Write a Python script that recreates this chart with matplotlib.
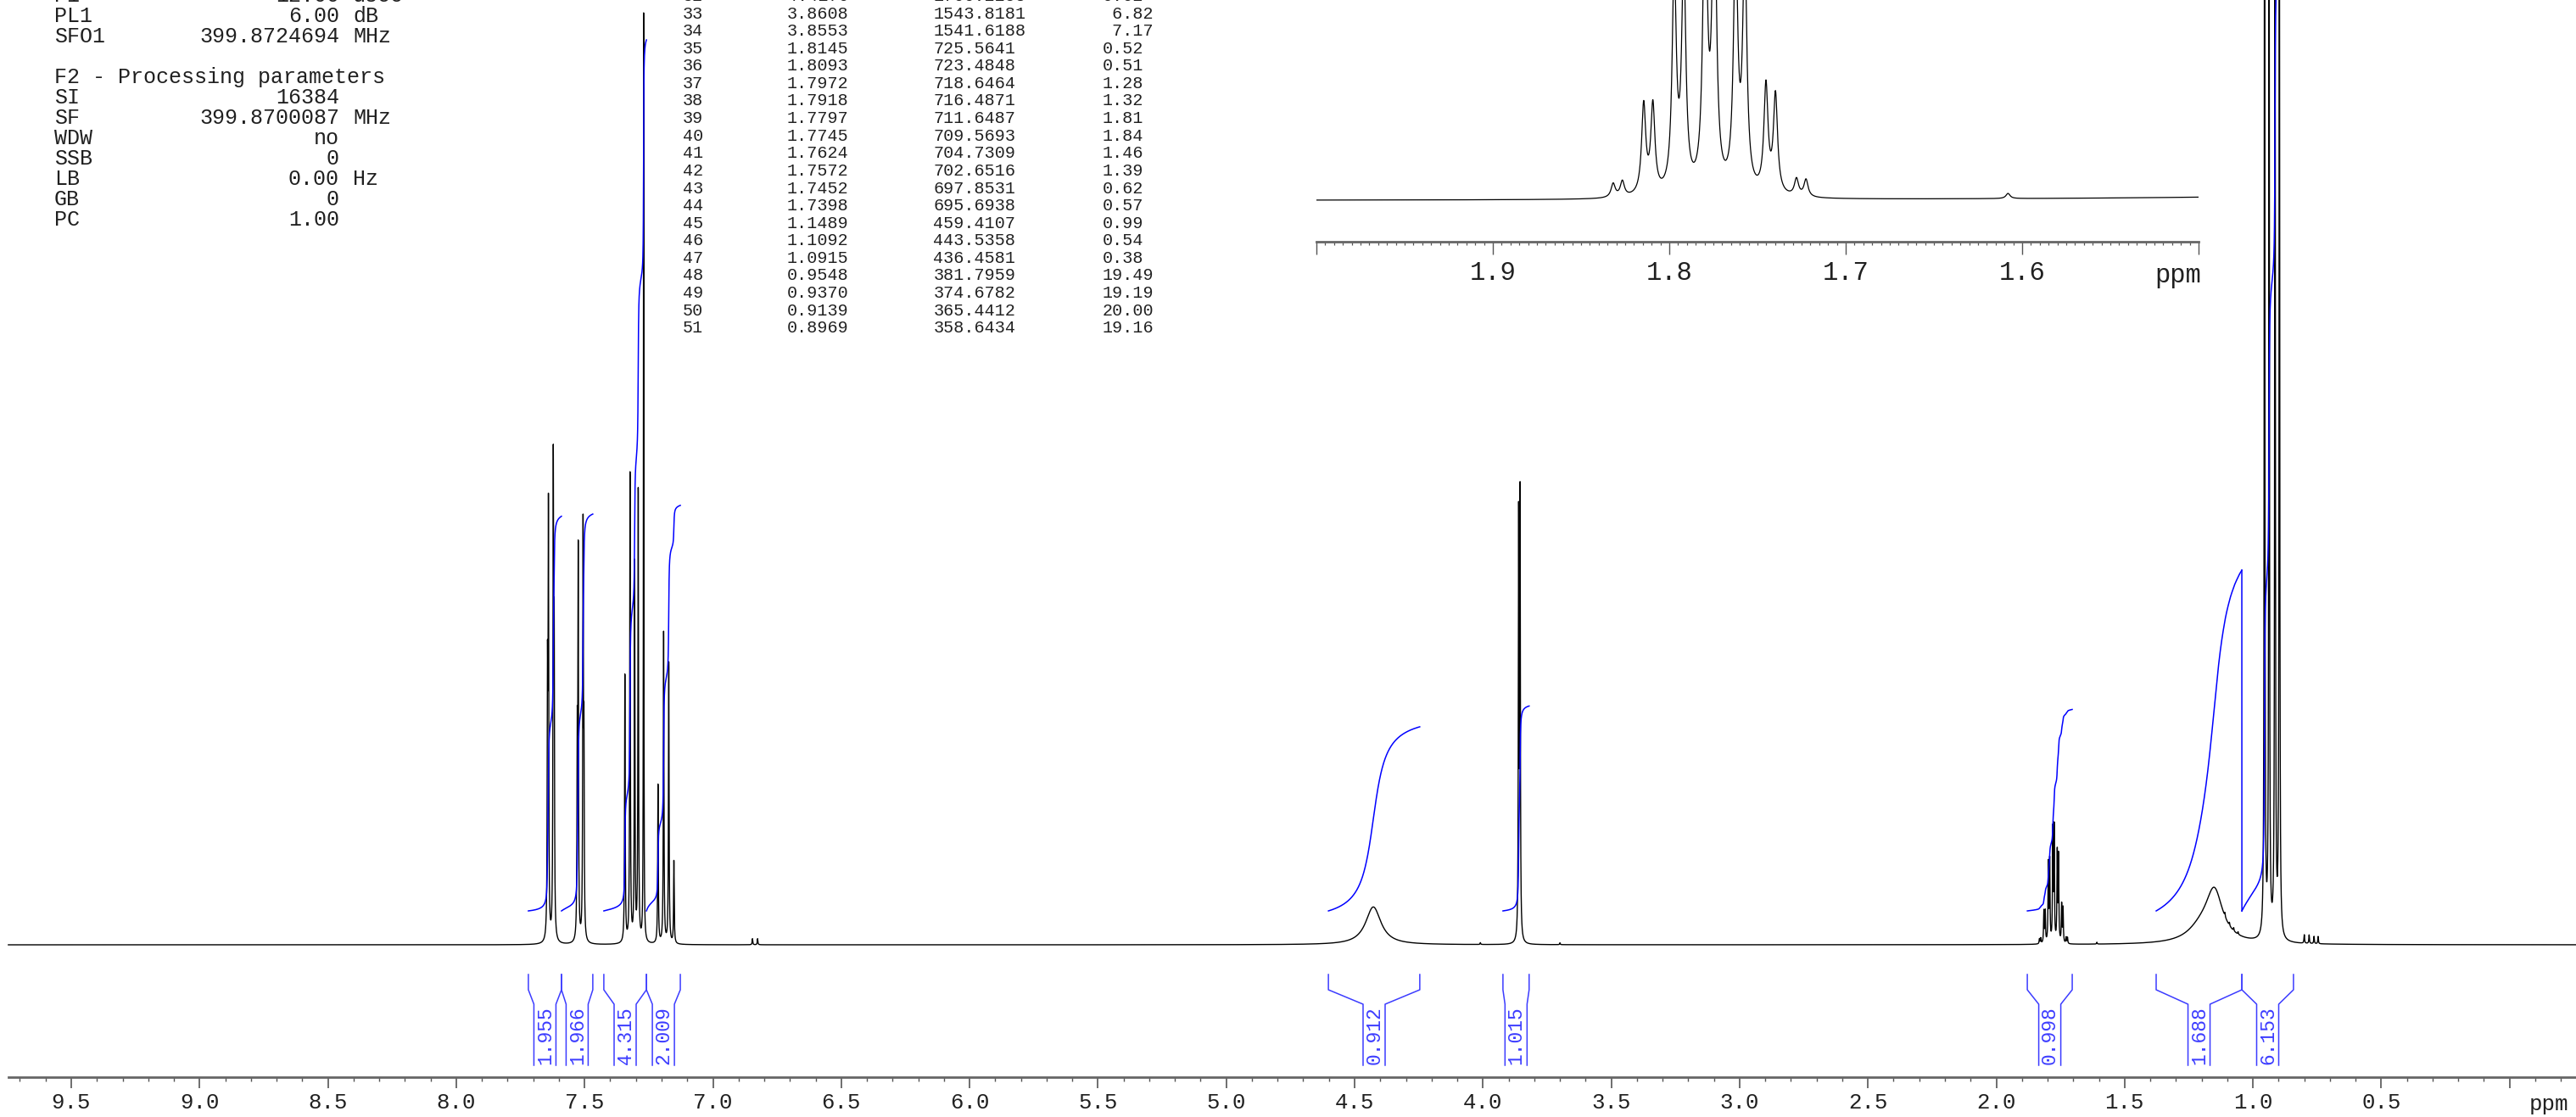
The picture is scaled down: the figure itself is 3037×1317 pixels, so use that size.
import numpy as np
import matplotlib
matplotlib.use("Agg")
import matplotlib.pyplot as plt
from matplotlib.ticker import FixedLocator, MultipleLocator, FuncFormatter

plt.rcParams["font.family"] = ["Liberation Mono", "DejaVu Sans Mono"]

W, H = 3037, 1317
TXT = "#202020"
BLUE = "#0000ff"
BLUE_L = "#3c3cff"

# --- parameter block (top left) ---
param_names = ["P1", "PL1", "SFO1", "", "F2 - Processing parameters",
               "SI", "SF", "WDW", "SSB", "LB", "GB", "PC"]
param_values = ["12.00", "6.00", "399.8724694", "", "",
                "16384", "399.8700087", "no", "0", "0.00", "0", "1.00"]
param_units = ["usec", "dB", "MHz", "", "", "", "MHz", "", "", "Hz", "", ""]

# --- peak list (rows 32..51 visible) ---
table_idx = list(range(32, 52))
table_ppm = [4.4170, 3.8608, 3.8553, 1.8145, 1.8093, 1.7972, 1.7918, 1.7797,
             1.7745, 1.7624, 1.7572, 1.7452, 1.7398, 1.1489, 1.1092, 1.0915,
             0.9548, 0.9370, 0.9139, 0.8969]
table_hz = [1766.2258, 1543.8181, 1541.6188, 725.5641, 723.4848, 718.6464,
            716.4871, 711.6487, 709.5693, 704.7309, 702.6516, 697.8531,
            695.6938, 459.4107, 443.5358, 436.4581, 381.7959, 374.6782,
            365.4412, 358.6434]
table_int = [0.62, 6.82, 7.17, 0.52, 0.51, 1.28, 1.32, 1.81, 1.84, 1.46, 1.39,
             0.62, 0.57, 0.99, 0.54, 0.38, 19.49, 19.19, 20.00, 19.16]
sharp_rows = [33, 34, 35, 36, 37, 38, 39, 40, 41, 42, 43, 44, 48, 49, 50, 51]

# --- peaks (not in the visible list) ---
arom_ppm = [7.6445, 7.6410, 7.6220, 7.6185,
            7.5285, 7.5250, 7.5060, 7.5025,
            7.343, 7.323, 7.305, 7.291,
            7.214, 7.192, 7.172, 7.152]
arom_int = [4.0, 6.8, 7.5, 4.6,
            3.0, 6.2, 6.6, 3.0,
            4.4, 7.7, 6.2, 7.4,
            2.6, 5.1, 4.6, 1.35]
solvent_ppm = [7.270]
solvent_int = [15.3]
minor_ppm = [6.846, 6.826, 4.01, 3.70, 1.8318, 1.8266, 1.7279, 1.7225, 1.608,
             1.1092, 1.0915, 1.075, 1.058, 0.800, 0.781, 0.762, 0.746]
minor_int = [0.10, 0.10, 0.03, 0.03, 0.08, 0.09, 0.10, 0.10, 0.03,
             0.06, 0.05, 0.05, 0.04, 0.14, 0.14, 0.12, 0.12]
broad_ppm = [4.427, 1.150, 1.200]
broad_int = [0.62, 0.80, 0.22]
broad_fwhm = [0.073, 0.080, 0.130]

# --- integrals ---
int_left = [7.719, 7.590, 7.425, 7.259, 4.602, 3.922, 1.879, 1.377, 1.043]
int_right = [7.590, 7.468, 7.259, 7.127, 4.246, 3.820, 1.704, 1.043, 0.842]
int_value = [1.955, 1.966, 4.315, 2.009, 0.912, 1.015, 0.998, 1.688, 6.153]

FWHM = 0.0028
FWHM_SOLV = 0.0018

sel = [table_idx.index(i) for i in sharp_rows]
pk_ppm = np.array([table_ppm[i] for i in sel] + arom_ppm + minor_ppm + solvent_ppm + broad_ppm)
pk_int = np.array([table_int[i] for i in sel] + arom_int + minor_int + solvent_int + broad_int)
pk_w = np.array([FWHM] * (len(sel) + len(arom_ppm) + len(minor_ppm))
                + [FWHM_SOLV] * len(solvent_ppm) + broad_fwhm)


def spectrum(x):
    y = np.zeros_like(x)
    for p, h, w in zip(pk_ppm, pk_int, pk_w):
        y += h / (1.0 + ((x - p) / (w / 2)) ** 2)
    return y


# pixel geometry of the reference
X0, PXPPM = 84.0, 302.6          # 9.5 ppm position, px per ppm
BASE, S_MAIN, S_INT = 1114.0, 72.0, 238.0
INT_OFF = 40.0


def row(ypx):
    return (BASE - ypx) / S_MAIN


ppm_l = 9.5 + X0 / PXPPM
ppm_r = 9.5 - (W - X0) / PXPPM

fig = plt.figure(figsize=(W / 100, H / 100), dpi=100)
ax = fig.add_axes([0, 0, 1, 1])
ax.set_xlim(ppm_l, ppm_r)
ax.set_ylim(row(H), row(0))
ax.axis("off")

ppm = np.linspace(9.745, ppm_r, 40001)
spec = spectrum(ppm)
ax.plot(ppm, spec, color="black", lw=1.0)

# integral curves
ends = []
for l, r, v in zip(int_left, int_right, int_value):
    m = (ppm <= l) & (ppm >= r)
    cum = np.cumsum(spec[m])
    cum = (cum - cum[0]) / (cum[-1] - cum[0])
    curve = INT_OFF / S_MAIN + cum * v * S_INT / S_MAIN
    ax.plot(ppm[m], curve, color=BLUE, lw=1.1)
    ends.append((ppm[m][0], curve[0], ppm[m][-1], curve[-1]))
# 1.688 and 6.153 integrals joined
ax.plot([ends[7][2], ends[8][0]], [ends[7][3], ends[8][1]], color=BLUE, lw=1.1)

# integral brackets and values
hw = 13.0 / PXPPM
yb = [row(1149), row(1167), row(1184), row(1256)]
for l, r, v in zip(int_left, int_right, int_value):
    xc = (l + r) / 2
    ax.plot([l, l, xc + hw, xc + hw], yb, color=BLUE_L, lw=1.1)
    ax.plot([r, r, xc - hw, xc - hw], yb, color=BLUE_L, lw=1.1)
    ax.text(xc, row(1221), f"{v:.3f}", rotation=90, ha="center", va="center",
            fontsize=16.5, color=BLUE_L)

# main ppm scale
ax_s = fig.add_axes([0, (H - 1270) / H, 1, 0.02])
ax_s.set_xlim(ppm_l, ppm_r)
ax_s.set_facecolor("none")
for s in ["top", "left", "right"]:
    ax_s.spines[s].set_visible(False)
ax_s.spines["bottom"].set_color("#666666")
ax_s.spines["bottom"].set_linewidth(2.0)
ax_s.spines["bottom"].set_bounds(9.745, ppm_r)
ax_s.set_yticks([])
ax_s.xaxis.set_major_locator(FixedLocator(np.arange(0, 9.51, 0.5)))
ax_s.xaxis.set_minor_locator(MultipleLocator(0.1))
ax_s.xaxis.set_major_formatter(FuncFormatter(lambda v, p: "" if abs(v) < 1e-6 else f"{v:.1f}"))
ax_s.tick_params(axis="x", which="major", direction="out", length=9.4, width=1.2,
                 color="#555555", labelsize=18.5, labelcolor=TXT, pad=3.5)
ax_s.tick_params(axis="x", which="minor", direction="out", length=3.6, width=1.0,
                 color="#555555")

# inset of the 1.8 ppm multiplet
S_IN, BASE_IN, AX_IN = 203.0, 236.7, 285.0
ax_in = fig.add_axes([1552 / W, (H - AX_IN) / H, 1040 / W, AX_IN / H])
ax_in.set_facecolor("none")
xi = np.linspace(2.0, 1.5, 8001)
ax_in.plot(xi, spectrum(xi), color="black", lw=0.9)
ax_in.set_xlim(2.0, 1.5)
ax_in.set_ylim((BASE_IN - AX_IN) / S_IN, BASE_IN / S_IN)
for s in ["top", "left", "right"]:
    ax_in.spines[s].set_visible(False)
ax_in.spines["bottom"].set_color("#666666")
ax_in.spines["bottom"].set_linewidth(2.0)
ax_in.set_yticks([])
ax_in.xaxis.set_major_locator(FixedLocator(np.arange(1.5, 2.001, 0.1)))
ax_in.xaxis.set_minor_locator(MultipleLocator(0.005))
ax_in.xaxis.set_major_formatter(FuncFormatter(
    lambda v, p: f"{v:.1f}" if 1.55 < v < 1.95 else ""))
ax_in.tick_params(axis="x", which="major", direction="out", length=10.8, width=1.0,
                  color="#555555", labelsize=22, labelcolor=TXT, pad=5)
ax_in.tick_params(axis="x", which="minor", direction="out", length=3.0, width=0.9,
                  color="#555555")

# text overlay in pixel coordinates
ax_t = fig.add_axes([0, 0, 1, 1])
ax_t.set_xlim(0, W)
ax_t.set_ylim(H, 0)
ax_t.axis("off")
ax_t.set_facecolor("none")

for i, (n, v, u) in enumerate(zip(param_names, param_values, param_units)):
    y = -5 + 24 * i
    ax_t.text(64, y, n, ha="left", va="center", fontsize=18, color=TXT)
    ax_t.text(400, y, v, ha="right", va="center", fontsize=18, color=TXT)
    ax_t.text(416, y, u, ha="left", va="center", fontsize=18, color=TXT)

for k, (i, p, hz, v) in enumerate(zip(table_idx, table_ppm, table_hz, table_int)):
    y = -4.6 + 20.6 * k
    sv = f"{v:.2f}"
    if 5 <= v < 10:
        sv = " " + sv
    ax_t.text(804.6, y, str(i), ha="left", va="center", fontsize=14.5, color=TXT)
    ax_t.text(928, y, f"{p:.4f}", ha="left", va="center", fontsize=14.5, color=TXT)
    ax_t.text(1100.5, y, f"{hz:.4f}", ha="left", va="center", fontsize=14.5, color=TXT)
    ax_t.text(1299.5, y, sv, ha="left", va="center", fontsize=14.5, color=TXT)

ax_t.text(2982, 1302, "ppm", ha="left", va="center", fontsize=18.5, color=TXT)
ax_t.text(2595, 325, "ppm", ha="right", va="center", fontsize=22, color=TXT)

fig.savefig("out.png", dpi=100)
